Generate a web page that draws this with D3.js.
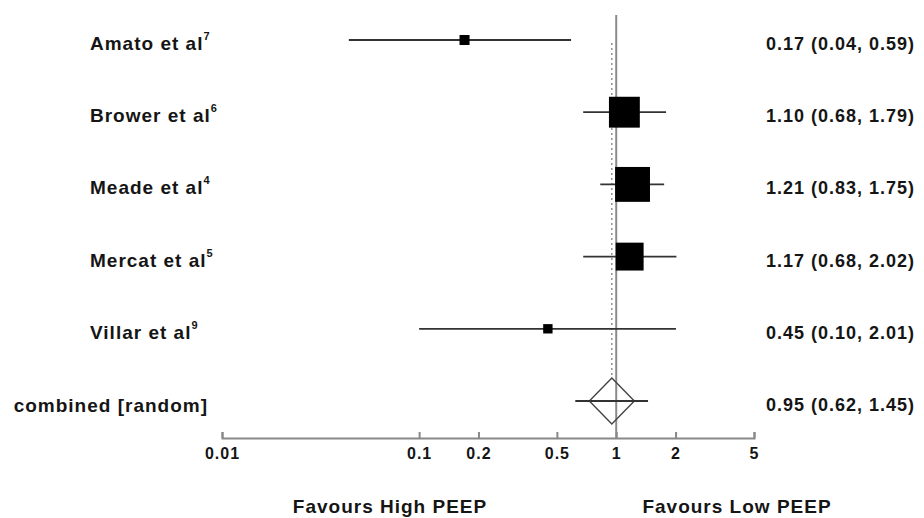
<!DOCTYPE html>
<html>
<head>
<meta charset="utf-8">
<script src="https://cdn.jsdelivr.net/npm/d3@7"></script>
<style>
body { margin: 0; background: #fff; }
text { font-family: "Liberation Sans", Arial, sans-serif; fill: #151515; letter-spacing: 1px; font-weight: bold; }
</style>
</head>
<body>
<svg id="forest"></svg>
<script>
// data
const studies = ["Amato et al", "Brower et al", "Meade et al", "Mercat et al", "Villar et al"];
const refs = ["7", "6", "4", "5", "9"];
const estimates = [0.17, 1.10, 1.21, 1.17, 0.45];
const lower = [0.044, 0.68, 0.83, 0.68, 0.10];
const upper = [0.59, 1.79, 1.75, 2.02, 2.01];
const weights = [3.2, 30.4, 38.8, 24.8, 2.8];

const pooledLabel = "combined [random]";
const pooledEst = 0.95;
const pooledLower = 0.62;
const pooledUpper = 1.45;

const tickValues = [0.01, 0.1, 0.2, 0.5, 1, 2, 5];
const axisLabels = ["Favours High PEEP", "Favours Low PEEP"];

const W = 924, H = 518;
const axisY = 438;

const svg = d3.select("#forest")
    .attr("width", W)
    .attr("height", H);

// scales
const x = d3.scaleLog()
    .domain([0.01, 5])
    .range([222, 754]);

const rows = studies.concat([pooledLabel]);
const y = d3.scalePoint()
    .domain(rows)
    .range([40, 401]);

const boxSize = d3.scaleSqrt()
    .domain([0, 100])
    .range([0, 56]);

const data = studies.map((s, i) => ({
    name: s, ref: refs[i], est: estimates[i], lo: lower[i], hi: upper[i], w: weights[i]
}));

const fmt = v => v.toFixed(2);

// line of no effect
svg.append("line")
    .attr("x1", x(1)).attr("x2", x(1))
    .attr("y1", 15).attr("y2", axisY)
    .attr("stroke", "#8a8a8a")
    .attr("stroke-width", 2);

// pooled estimate (dotted)
svg.append("line")
    .attr("x1", x(pooledEst)).attr("x2", x(pooledEst))
    .attr("y1", 43).attr("y2", y(pooledLabel) - 23)
    .attr("stroke", "#777")
    .attr("stroke-width", 1.2)
    .attr("stroke-dasharray", "2,3");

// confidence intervals
svg.selectAll(".ci")
    .data(data)
    .enter()
    .append("line")
    .attr("class", "ci")
    .attr("x1", d => x(d.lo))
    .attr("x2", d => x(d.hi))
    .attr("y1", d => y(d.name))
    .attr("y2", d => y(d.name))
    .attr("stroke", "#333")
    .attr("stroke-width", 1.8);

// weighted boxes
svg.selectAll(".box")
    .data(data)
    .enter()
    .append("rect")
    .attr("class", "box")
    .attr("x", d => x(d.est) - boxSize(d.w) / 2)
    .attr("y", d => y(d.name) - boxSize(d.w) / 2)
    .attr("width", d => boxSize(d.w))
    .attr("height", d => boxSize(d.w))
    .attr("fill", "#000");

// pooled diamond + CI
const py = y(pooledLabel), px = x(pooledEst);
svg.append("path")
    .attr("d", `M${px},${py - 23}L${px + 22.5},${py}L${px},${py + 23}L${px - 22.5},${py}Z`)
    .attr("fill", "none")
    .attr("stroke", "#444")
    .attr("stroke-width", 1.4);

svg.append("line")
    .attr("x1", x(pooledLower)).attr("x2", x(pooledUpper))
    .attr("y1", py).attr("y2", py)
    .attr("stroke", "#333")
    .attr("stroke-width", 1.8);

// x axis: ticks pointing up, labels below
const axis = svg.append("g")
    .attr("transform", `translate(0,${axisY})`)
    .call(d3.axisBottom(x)
        .tickValues(tickValues)
        .tickFormat(d => String(d))
        .tickSize(-6)
        .tickPadding(10));

axis.select(".domain").attr("stroke", "#888").attr("stroke-width", 2);
axis.selectAll(".tick line").attr("stroke", "#888").attr("stroke-width", 2);
axis.selectAll(".tick text")
    .attr("font-family", null)
    .attr("font-size", 16)
    .attr("fill", "#151515")
    .attr("dy", "0.71em");

// study labels with reference superscripts
const labels = svg.selectAll(".label")
    .data(data)
    .enter()
    .append("text")
    .attr("class", "label")
    .attr("x", 90)
    .attr("y", d => y(d.name) + 10)
    .attr("font-size", 19);
labels.append("tspan").text(d => d.name);
labels.append("tspan")
    .attr("font-size", 11)
    .attr("dy", -10)
    .text(d => d.ref);

svg.append("text")
    .attr("x", 208)
    .attr("y", py + 11)
    .attr("text-anchor", "end")
    .attr("font-size", 19)
    .text(pooledLabel);

// effect sizes
svg.selectAll(".stat")
    .data(data)
    .enter()
    .append("text")
    .attr("class", "stat")
    .attr("x", 766)
    .attr("y", d => y(d.name) + 10)
    .attr("font-size", 18)
    .text(d => `${fmt(d.est)} (${fmt(d.lo)}, ${fmt(d.hi)})`);

svg.append("text")
    .attr("x", 766)
    .attr("y", py + 10)
    .attr("font-size", 18)
    .text(`${fmt(pooledEst)} (${fmt(pooledLower)}, ${fmt(pooledUpper)})`);

// direction labels
svg.selectAll(".dir")
    .data(axisLabels)
    .enter()
    .append("text")
    .attr("class", "dir")
    .attr("x", (d, i) => i === 0 ? 390 : 737)
    .attr("y", 513)
    .attr("text-anchor", "middle")
    .attr("font-size", 19)
    .text(d => d);
</script>
</body>
</html>
